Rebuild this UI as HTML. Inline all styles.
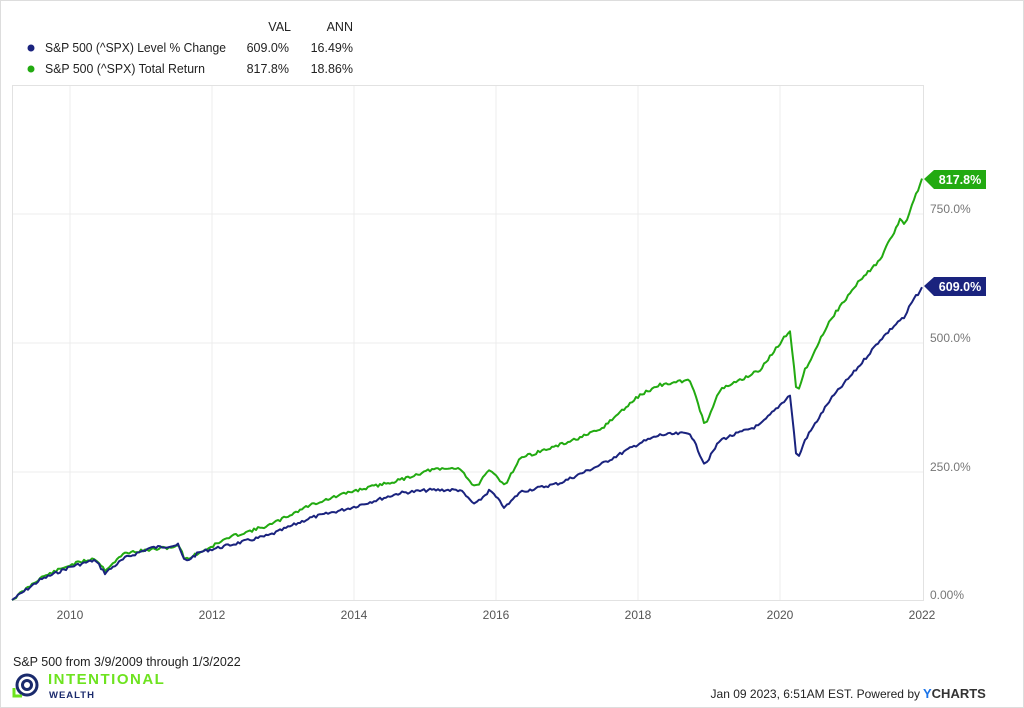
<!DOCTYPE html>
<html><head><meta charset="utf-8"><style>
body{margin:0;background:#fff;font-family:"Liberation Sans",sans-serif;}
#w{position:relative;width:1022px;height:706px;border:1px solid #ddd;overflow:hidden}
</style></head><body><div id="w">
<svg width="1024" height="708" style="position:absolute;left:-1px;top:-1px" font-family="Liberation Sans, sans-serif">
<g font-size="12.5" fill="#222">
<text x="291" y="31" text-anchor="end">VAL</text>
<text x="353" y="31" text-anchor="end">ANN</text>
<circle cx="31" cy="48" r="3.5" fill="#1a237e"/>
<text x="45" y="52" textLength="181" lengthAdjust="spacingAndGlyphs">S&amp;P 500 (^SPX) Level % Change</text>
<text x="289" y="52" text-anchor="end">609.0%</text>
<text x="353" y="52" text-anchor="end">16.49%</text>
<circle cx="31" cy="69" r="3.5" fill="#22aa11"/>
<text x="45" y="73" textLength="160" lengthAdjust="spacingAndGlyphs">S&amp;P 500 (^SPX) Total Return</text>
<text x="289" y="73" text-anchor="end">817.8%</text>
<text x="353" y="73" text-anchor="end">18.86%</text>
</g>
<rect x="12.5" y="85.5" width="911" height="515" fill="none" stroke="#e2e2e2"/>
<g stroke="#ececec">
<line x1="70" y1="86" x2="70" y2="600"/><line x1="212" y1="86" x2="212" y2="600"/>
<line x1="354" y1="86" x2="354" y2="600"/><line x1="496" y1="86" x2="496" y2="600"/>
<line x1="638" y1="86" x2="638" y2="600"/><line x1="780" y1="86" x2="780" y2="600"/>
<line x1="13" y1="214" x2="923" y2="214"/><line x1="13" y1="343" x2="923" y2="343"/>
<line x1="13" y1="472" x2="923" y2="472"/>
</g>
<g font-size="12" fill="#777">
<text x="930" y="213">750.0%</text><text x="930" y="342">500.0%</text>
<text x="930" y="471">250.0%</text><text x="930" y="599">0.00%</text>
</g>
<g font-size="12" fill="#555" text-anchor="middle">
<text x="70" y="619">2010</text><text x="212" y="619">2012</text><text x="354" y="619">2014</text>
<text x="496" y="619">2016</text><text x="638" y="619">2018</text><text x="780" y="619">2020</text><text x="922" y="619">2022</text>
</g>
<path id="g" fill="none" stroke="#22aa11" stroke-width="2" stroke-linejoin="round"/>
<path id="b" fill="none" stroke="#1a237e" stroke-width="2" stroke-linejoin="round"/>
<polygon points="924,179 934,170 986,170 986,189 934,189" fill="#22aa11"/>
<text x="960" y="184" font-size="12.5" font-weight="bold" fill="#fff" text-anchor="middle">817.8%</text>
<polygon points="924,286 934,277 986,277 986,296 934,296" fill="#1a237e"/>
<text x="960" y="291" font-size="12.5" font-weight="bold" fill="#fff" text-anchor="middle">609.0%</text>
<text x="13" y="666" font-size="12.5" fill="#222">S&amp;P 500 from 3/9/2009 through 1/3/2022</text>
<g fill="none" stroke="#1a2a6c" stroke-width="3"><circle cx="27" cy="685" r="10"/><circle cx="27" cy="685" r="4.5"/></g>
<path d="M14 688 v8 h8" stroke="#6de31f" stroke-width="3" fill="none"/>
<text x="48" y="684" font-size="15" font-weight="bold" fill="#6de31f" letter-spacing="1.5">INTENTIONAL</text>
<text x="49" y="698" font-size="9.5" font-weight="bold" fill="#1a2a6c" letter-spacing="1">WEALTH</text>
<text x="920" y="698" font-size="12" fill="#222" text-anchor="end">Jan 09 2023, 6:51AM EST. Powered by</text>
<text x="923" y="698" font-size="13" font-weight="bold" fill="#333"><tspan fill="#1a73e8">Y</tspan>CHARTS</text>
</svg></div>
<script>
function mk(pts,seed,amp){var s=seed;function r(){s=(s*9301+49297)%233280;return s/233280-0.5;}
var d="M"+pts[0][0]+" "+pts[0][1];
for(var i=1;i<pts.length;i++){var a=pts[i-1],b=pts[i];for(var x=a[0]+2;x<=b[0];x+=2){var t=(x-a[0])/(b[0]-a[0]);var y=a[1]+(b[1]-a[1])*t+r()*amp;d+=" L"+x.toFixed(1)+" "+y.toFixed(1);}}
return d;}
var B=[[12,600],[40,580],[70,567],[95,560],[105,573],[125,558],[150,548],[178,545],[185,562],[200,552],[230,545],[270,535],[310,518],[350,508],[400,493],[430,490],[460,490],[475,505],[490,490],[505,508],[520,492],[560,483],[600,465],[640,443],[660,435],[690,433],[705,465],[720,440],[760,425],[790,395],[797,462],[805,440],[830,400],[860,365],[880,340],[900,320],[905,318],[910,305],[922,288]];
var G=[[12,600],[40,578],[70,565],[95,558],[105,570],[125,553],[180,546],[185,560],[230,537],[270,525],[310,505],[350,492],[400,480],[430,470],[460,468],[475,488],[490,470],[505,485],[520,458],[560,445],[600,430],[640,395],[660,385],[690,380],[705,425],[720,390],[760,370],[790,330],[797,395],[805,370],[830,320],[860,280],[880,260],[900,220],[905,225],[910,210],[922,179]];
document.getElementById('b').setAttribute('d',mk(B,7,3));
document.getElementById('g').setAttribute('d',mk(G,11,3));
</script>
</body></html>
